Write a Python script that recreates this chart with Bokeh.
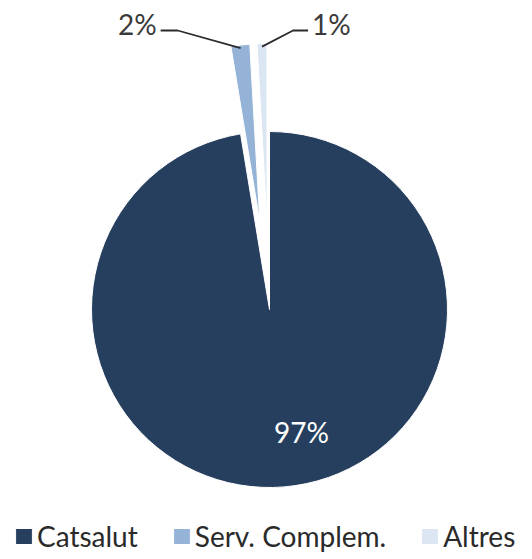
import math
from bokeh.plotting import figure
from bokeh.models import ColumnDataSource, Range1d, Legend, LegendItem
from bokeh.core.properties import value
from bokeh.embed import file_html
from bokeh.resources import INLINE

# ---- data ----
categories = ["Catsalut", "Serv. Complem.", "Altres"]
shares = [97.4, 1.7, 0.9]
pct_labels = ["97%", "2%", "1%"]
colors = ["#263F5E", "#95B3D7", "#DCE6F2"]

# ---- layout constants ----
R = 178          # pie radius (px)
EXPLODE = [0, 88, 88]
FONT = "Lato"
FS = "28px"
W, H = 528, 555
CX, CY = 269, 309   # pie centre in screen px from top-left

total = sum(shares)
start = 90.0
starts, ends, mids, xs, ys = [], [], [], [], []
for s, ex in zip(shares, EXPLODE):
    sweep = 360.0 * s / total
    a0 = start
    a1 = start - sweep
    m = (a0 + a1) / 2
    starts.append(math.radians(a0))
    ends.append(math.radians(a1))
    mids.append(m)
    xs.append(ex * math.cos(math.radians(m)))
    ys.append(ex * math.sin(math.radians(m)))
    start = a1

src = ColumnDataSource(dict(x=xs, y=ys, start=starts, end=ends, color=colors,
                            cat=categories))

p = figure(width=W, height=H, output_backend="svg", toolbar_location=None,
           x_range=Range1d(-CX, W - CX), y_range=Range1d(CY - H, CY),
           min_border=0)
p.axis.visible = False
p.grid.visible = False
p.outline_line_color = None

wr = p.wedge(x="x", y="y", radius=R, start_angle="start", end_angle="end",
             direction="clock", fill_color="color", line_color="white",
             line_width=1, source=src)

# inner label (largest slice)
m0 = math.radians(mids[0])
p.text(x=[0.69 * R * math.cos(m0) + 22], y=[0.69 * R * math.sin(m0)],
       text=[pct_labels[0]], text_color="white", text_font=value(FONT),
       text_font_size=FS, text_align="center", text_baseline="middle")

# outside labels with leader lines
LABEL_Y = 286
LINE_Y = 279
elbow_dx = [None, -63, 31]
horiz = [None, -17, 15]
for i in (1, 2):
    m = math.radians(mids[i])
    rr = R + EXPLODE[i] - 3
    sx, sy = rr * math.cos(m), rr * math.sin(m)
    ex_ = sx + elbow_dx[i]
    hx = ex_ + horiz[i]
    p.line([sx, ex_, hx], [sy, LINE_Y, LINE_Y], line_color="#2b2b2b",
           line_width=1.8)
    align = "right" if horiz[i] < 0 else "left"
    p.text(x=[hx + (-4 if horiz[i] < 0 else 4)], y=[LABEL_Y], text=[pct_labels[i]],
           text_color="#3a3a3a", text_font=value(FONT), text_font_size=FS,
           text_align=align, text_baseline="middle")

legend = Legend(items=[LegendItem(label=c, renderers=[wr], index=i)
                       for i, c in enumerate(categories)],
                orientation="horizontal", location=(13, 2),
                glyph_width=21, glyph_height=20, label_standoff=3,
                spacing=33, padding=0, margin=0,
                label_text_font=FONT, label_text_font_size=FS,
                label_text_color="#2a2a2a",
                border_line_color=None, background_fill_alpha=0)
p.add_layout(legend)

open("out.html", "w").write(file_html(p, INLINE))
